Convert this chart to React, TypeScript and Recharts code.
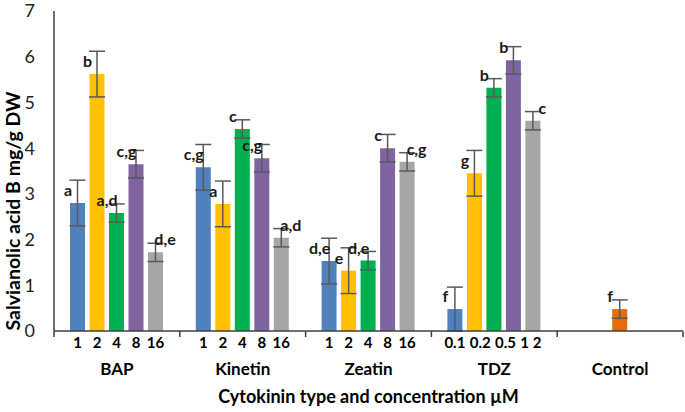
import React from "react";
import { Bar, BarChart, Cell, ErrorBar, Label, LabelList, XAxis, YAxis } from "recharts";

const groups = ["BAP", "Kinetin", "Zeatin", "TDZ", "Control"];

// concentrations shown under each bar (µM)
const concBAP = ["1", "2", "4", "8", "16"];
const concKinetin = ["1", "2", "4", "8", "16"];
const concZeatin = ["1", "2", "4", "8", "16"];
const concTDZ = ["0.1", "0.2", "0.5", "1", "2"];
const concControl: (string | null)[] = [null, null, null, null, null];
const concs = [concBAP, concKinetin, concZeatin, concTDZ, concControl];

// bar values per slot (the control sits in the middle slot)
const s1 = [2.8, 3.58, 1.53, 0.48, null];
const s2 = [5.62, 2.78, 1.32, 3.45, null];
const s3 = [2.58, 4.42, 1.54, 5.32, 0.48];
const s4 = [3.65, 3.78, 4.0, 5.92, null];
const s5 = [1.72, 2.04, 3.7, 4.6, null];

// error bar half lengths
const e1 = [0.5, 0.5, 0.5, 0.48, null];
const e2 = [0.5, 0.5, 0.5, 0.5, null];
const e3 = [0.2, 0.2, 0.2, 0.2, 0.2];
const e4 = [0.3, 0.3, 0.3, 0.3, null];
const e5 = [0.2, 0.2, 0.2, 0.2, null];

// significance letters
const l1 = ["a", "c,g", "d,e", "f", null];
const l2 = ["b", "a", "e", "g", null];
const l3 = ["a,d", "c", "d,e", "b", "f"];
const l4 = ["c,g", "c,g", "c", "b", null];
const l5 = ["d,e", "a,d", "c,g", "c", null];

const yTicks = [0, 1, 2, 3, 4, 5, 6, 7];

const series = [
  { key: "s1", err: "e1", let: "l1", conc: "c1", color: "#4F81BD" },
  { key: "s2", err: "e2", let: "l2", conc: "c2", color: "#FFC000" },
  { key: "s3", err: "e3", let: "l3", conc: "c3", color: "#00B050" },
  { key: "s4", err: "e4", let: "l4", conc: "c4", color: "#8064A2" },
  { key: "s5", err: "e5", let: "l5", conc: "c5", color: "#A6A6A6" },
];
const CONTROL_COLOR = "#E46C0A";

const data = groups.map((group, i) => ({
  group,
  s1: s1[i], s2: s2[i], s3: s3[i], s4: s4[i], s5: s5[i],
  e1: e1[i], e2: e2[i], e3: e3[i], e4: e4[i], e5: e5[i],
  l1: l1[i], l2: l2[i], l3: l3[i], l4: l4[i], l5: l5[i],
  c1: concs[i][0], c2: concs[i][1], c3: concs[i][2], c4: concs[i][3], c5: concs[i][4],
}));

const W = 685;
const H = 412;
const LEFT = 54;
const RIGHT = 2;
const BAR_GAP = 4.5;
const STEP = (W - LEFT - RIGHT) / groups.length;
const FONT = "Lato, 'Open Sans', sans-serif";
const AXIS = "#404040";
const SUB_SIZE = 15;

function GroupTick(props: any) {
  const { x, y, payload, index } = props;
  const half = STEP / 2;
  return (
    <g>
      <line x1={x - half} x2={x - half} y1={y} y2={y + 6} stroke={AXIS} strokeWidth={1.5} />
      {index === groups.length - 1 && (
        <line x1={x + half} x2={x + half} y1={y} y2={y + 6} stroke={AXIS} strokeWidth={1.5} />
      )}
      <text x={x} y={y + 44} textAnchor="middle" fontFamily={FONT} fontWeight={700} fontSize={17} fill="#000">
        {payload.value}
      </text>
    </g>
  );
}

function letterLabel(right: boolean) {
  return (props: any) => {
    const { x, y, width, value } = props;
    if (value == null) return null;
    const lx = right ? x + width + 2 : x - 2;
    return (
      <text x={lx} y={y - 7} textAnchor="middle" fontFamily={FONT} fontWeight={700} fontSize={16} fill="#1a1a1a">
        {value}
      </text>
    );
  };
}

// rough text width, used to keep wide labels (0.1 0.2 ...) from touching
const textW = (s: string) => [...s].reduce((w, ch) => w + (ch === "." ? 0.26 : 0.58), 0) * SUB_SIZE;

function concLabel(si: number) {
  return (props: any) => {
    const { x, y, width, height, value, index } = props;
    if (value == null) return null;
    const labels = concs[index] as string[];
    const step = width + BAR_GAP;
    const c0 = x + width / 2 - si * step;
    let pos = 0;
    let right = -Infinity;
    for (let j = 0; j <= si; j++) {
      const w = textW(labels[j]);
      pos = Math.max(c0 + j * step, right + 4 + w / 2);
      right = pos + w / 2;
    }
    return (
      <text x={pos} y={y + height + 17} textAnchor="middle" fontFamily={FONT} fontWeight={700} fontSize={SUB_SIZE} fill="#000">
        {value}
      </text>
    );
  };
}

export default function App() {
  return (
    <div style={{ position: "fixed", left: 0, top: 0, width: W, height: H, background: "#fff" }}>
      <BarChart
        width={W}
        height={H}
        data={data}
        margin={{ top: 11, right: RIGHT, bottom: 0, left: 0 }}
        barCategoryGap={16}
        barGap={BAR_GAP}
      >
        <XAxis
          dataKey="group"
          height={81}
          axisLine={{ stroke: AXIS, strokeWidth: 1.5 }}
          tickLine={false}
          tickSize={0}
          tickMargin={0}
          interval={0}
          tick={<GroupTick />}
        >
          <Label
            content={(p: any) => {
              const vb = p.viewBox;
              return (
                <text x={vb.x + vb.width / 2} y={vb.y + 72} textAnchor="middle" fontFamily={FONT} fontWeight={700} fontSize={18} fill="#000">
                  Cytokinin type and concentration µM
                </text>
              );
            }}
          />
        </XAxis>
        <YAxis
          width={LEFT}
          domain={[0, 7]}
          ticks={yTicks}
          allowDataOverflow
          axisLine={{ stroke: AXIS, strokeWidth: 1.5 }}
          tickLine={false}
          tickSize={0}
          tickMargin={19}
          tick={{ fontFamily: FONT, fontSize: 18, fill: "#222" }}
        >
          <Label
            content={() => (
              <text
                x={0}
                y={0}
                transform="translate(20,211) rotate(-90)"
                textAnchor="middle"
                fontFamily={FONT}
                fontWeight={700}
                fontSize={19.5}
                fill="#000"
              >
                Salvianolic acid B mg/g DW
              </text>
            )}
          />
        </YAxis>
        {series.map((s, si) => (
          <Bar key={s.key} dataKey={s.key} fill={s.color} isAnimationActive={false}>
            {si === 2 &&
              data.map((d, i) => <Cell key={i} fill={i === groups.length - 1 ? CONTROL_COLOR : s.color} />)}
            <ErrorBar dataKey={s.err} width={8} stroke="#595959" strokeWidth={1.5} direction="y" />
            <LabelList dataKey={s.let} content={letterLabel(si === 4)} />
            <LabelList dataKey={s.conc} content={concLabel(si)} />
          </Bar>
        ))}
      </BarChart>
    </div>
  );
}
